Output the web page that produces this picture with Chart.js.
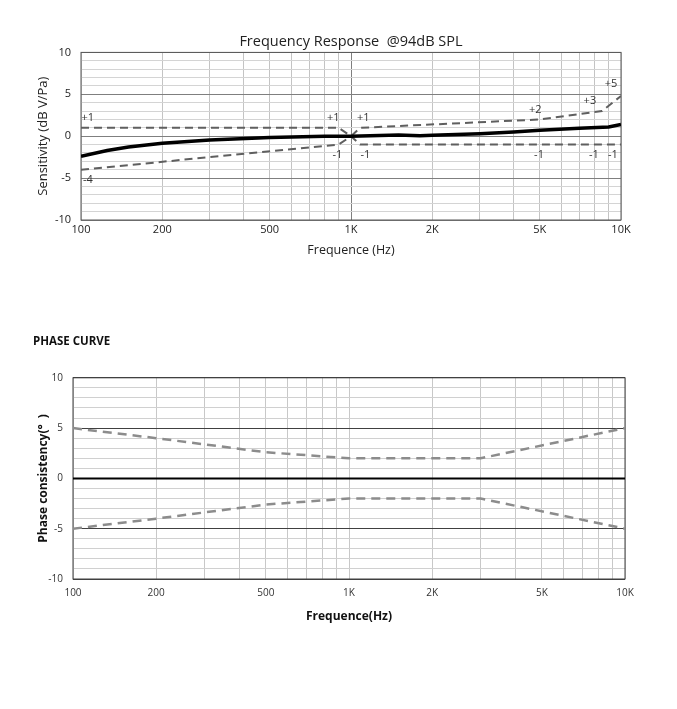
<!DOCTYPE html>
<html lang="en">
<head>
<meta charset="utf-8">
<title>Frequency Response @94dB SPL :: Phase Curve</title>
<script src="https://cdn.jsdelivr.net/npm/chart.js@4.4.1/dist/chart.umd.min.js"></script>
<style>
  html, body { margin: 0; padding: 0; background: #fff; }
  #wrap { position: relative; width: 677px; height: 709px; }
  #freqBox { position: absolute; left: 0; top: 0; width: 677px; height: 265px; }
  #phaseBox { position: absolute; left: 0; top: 330px; width: 677px; height: 300px; }
</style>
</head>
<body>
<div id="wrap">
  <div id="freqBox"><canvas id="freqChart"></canvas></div>
  <div id="phaseBox"><canvas id="phaseChart"></canvas></div>
</div>
<script>
// ---- data: frequency response ----
var sensFreq  = [100, 125, 150, 200, 300, 500, 800, 1000, 1500, 1800, 2000, 3000, 4000, 5000, 7000, 9000, 10000];
var sensVal   = [-2.4, -1.7, -1.3, -0.85, -0.45, -0.15, 0, 0, 0.15, 0.05, 0.1, 0.3, 0.5, 0.7, 0.95, 1.1, 1.4];
var upperFreq = [100, 900, 1000, 1080, 5000, 8500, 10000];
var upperVal  = [1, 1, 0, 1, 2, 3, 4.8];
var lowerFreq = [100, 900, 1000, 1080, 10000];
var lowerVal  = [-4, -1, 0, -1, -1];

// tolerance labels
var labelFreq = [106, 106, 860, 890, 1110, 1130, 4810, 4970, 7670, 7930, 9190, 9330];
var labelVal  = [1, -4, 1, -1, 1, -1, 2, -1, 3, -1, 5, -1];
var labelText = ['+1', '-4', '+1', '-1', '+1', '-1', '+2', '-1', '+3', '-1', '+5', '-1'];

// ---- data: phase curve ----
var phaseFreq     = [100, 10000];
var phaseVal      = [0, 0];
var phaseUpFreq   = [100, 200, 500, 1000, 3000, 10000];
var phaseUpVal    = [5, 4, 2.6, 2, 2, 5];
var phaseLowFreq  = [100, 200, 500, 1000, 3000, 10000];
var phaseLowVal   = [-5, -4, -2.6, -2, -2, -5];

// ---- axes ----
var xGrid      = [100, 200, 300, 400, 500, 600, 700, 800, 900, 1000, 2000, 3000, 4000, 5000, 6000, 7000, 8000, 9000, 10000];
var xTickVals  = [100, 200, 500, 1000, 2000, 5000, 10000];
var xTickText  = ['100', '200', '500', '1K', '2K', '5K', '10K'];

function pts(xs, ys) {
    return xs.map(function (f, i) { return {x: f, y: ys[i]}; });
}
function xLabel(v) {
    var i = xTickVals.indexOf(v);
    return i < 0 ? '' : xTickText[i];
}

// box around plot area
var plotBox = {
    id: 'plotBox',
    beforeDatasetsDraw: function (chart, args, opts) {
        var a = chart.chartArea, ctx = chart.ctx;
        ctx.save();
        ctx.strokeStyle = opts.color;
        ctx.lineWidth = 1;
        ctx.strokeRect(a.left, a.top, a.right - a.left, a.bottom - a.top);
        ctx.restore();
    }
};

// +1 / -1 tolerance labels
var tolLabels = {
    id: 'tolLabels',
    afterDatasetsDraw: function (chart) {
        var ctx = chart.ctx, x = chart.scales.x, y = chart.scales.y;
        ctx.save();
        ctx.font = '11px "Open Sans"';
        ctx.fillStyle = '#333';
        ctx.textAlign = 'center';
        ctx.textBaseline = 'middle';
        for (var i = 0; i < labelText.length; i++) {
            var px = x.getPixelForValue(labelFreq[i]);
            var py = y.getPixelForValue(labelVal[i]) + (labelText[i].charAt(0) === '-' ? 10 : -10);
            ctx.fillText(labelText[i], px, py);
        }
        ctx.restore();
    }
};

Chart.defaults.animation = false;
Chart.defaults.font.family = '"Open Sans", sans-serif';
Chart.defaults.color = '#333';

new Chart(document.getElementById('freqChart'), {
    type: 'line',
    data: {
        datasets: [{
            data: pts(sensFreq, sensVal),
            borderColor: '#000', borderWidth: 3.5, pointRadius: 0
        }, {
            data: pts(upperFreq, upperVal),
            borderColor: '#5f5f5f', borderWidth: 2, borderDash: [8, 5], pointRadius: 0
        }, {
            data: pts(lowerFreq, lowerVal),
            borderColor: '#5f5f5f', borderWidth: 2, borderDash: [8, 5], pointRadius: 0
        }]
    },
    options: {
        responsive: true,
        maintainAspectRatio: false,
        layout: { padding: { left: 30, top: 0, right: 56, bottom: 0 } },
        plugins: {
            legend: { display: false },
            tooltip: { enabled: false },
            title: {
                display: true, text: 'Frequency Response  @94dB SPL', fullSize: false,
                color: '#222', font: { size: 14.5, weight: 'normal' },
                padding: { top: 33, bottom: 2 }
            },
            plotBox: { color: '#595959' }
        },
        scales: {
            x: {
                type: 'logarithmic', min: 100, max: 10000,
                afterBuildTicks: function (s) { s.ticks = xGrid.map(function (v) { return {value: v}; }); },
                afterFit: function (s) { s.height = 45; },
                ticks: { autoSkip: false, maxRotation: 0, padding: 3, font: { size: 11 }, color: '#222',
                         callback: function (v) { return xLabel(v); } },
                grid: { drawTicks: false,
                        color: function (c) { return c.tick && c.tick.value === 1000 ? '#7f7f7f' : '#c4c4c4'; } },
                border: { display: false },
                title: { display: true, text: 'Frequence (Hz)', color: '#222', font: { size: 12.5 },
                         padding: { top: 0, bottom: 7 } }
            },
            y: {
                min: -10, max: 10,
                afterFit: function (s) { s.width = 51; },
                ticks: { stepSize: 1, autoSkip: false, padding: 10, font: { size: 11 }, color: '#222',
                         callback: function (v) { return v % 5 === 0 ? v : ''; } },
                grid: { drawTicks: false,
                        color: function (c) { return c.tick && c.tick.value % 5 === 0 ? '#7f7f7f' : '#d4d4d4'; } },
                border: { display: false },
                title: { display: true, text: 'Sensitivity (dB V/Pa)', color: '#222', font: { size: 13 },
                         padding: { top: 5, bottom: 0 } }
            }
        }
    },
    plugins: [plotBox, tolLabels]
});

new Chart(document.getElementById('phaseChart'), {
    type: 'line',
    data: {
        datasets: [{
            data: pts(phaseFreq, phaseVal),
            borderColor: '#000', borderWidth: 2, pointRadius: 0
        }, {
            data: pts(phaseUpFreq, phaseUpVal),
            borderColor: '#8c8c8c', borderWidth: 2.5, borderDash: [9, 6], pointRadius: 0
        }, {
            data: pts(phaseLowFreq, phaseLowVal),
            borderColor: '#8c8c8c', borderWidth: 2.5, borderDash: [9, 6], pointRadius: 0
        }]
    },
    options: {
        responsive: true,
        maintainAspectRatio: false,
        layout: { padding: { left: 33, top: 0, right: 52, bottom: 0 } },
        plugins: {
            legend: { display: false },
            tooltip: { enabled: false },
            title: {
                display: true, text: 'PHASE CURVE', align: 'start',
                color: '#111', font: { size: 11.5, weight: 'bold' },
                padding: { top: 5, bottom: 29 }
            },
            plotBox: { color: '#404040' }
        },
        scales: {
            x: {
                type: 'logarithmic', min: 100, max: 10000,
                afterBuildTicks: function (s) { s.ticks = xGrid.map(function (v) { return {value: v}; }); },
                afterFit: function (s) { s.height = 51; },
                ticks: { autoSkip: false, maxRotation: 0, padding: 8, font: { size: 10 }, color: '#333',
                         callback: function (v) { return xLabel(v); } },
                grid: { drawTicks: false, color: '#c8c8c8' },
                border: { display: false },
                title: { display: true, text: 'Frequence(Hz)', color: '#111', font: { size: 12, weight: 'bold' },
                         padding: { top: 0, bottom: 6 } }
            },
            y: {
                min: -10, max: 10,
                afterFit: function (s) { s.width = 40; },
                ticks: { stepSize: 1, autoSkip: false, padding: 10, font: { size: 10 }, color: '#333',
                         callback: function (v) { return v % 5 === 0 ? v : ''; } },
                grid: { drawTicks: false,
                        color: function (c) { return c.tick && c.tick.value % 5 === 0 ? '#404040' : '#d0d0d0'; } },
                border: { display: false },
                title: { display: true, text: 'Phase consistency(°  )', color: '#111', font: { size: 12, weight: 'bold' },
                         padding: { top: 3, bottom: 0 } }
            }
        }
    },
    plugins: [plotBox]
});
</script>
</body>
</html>
